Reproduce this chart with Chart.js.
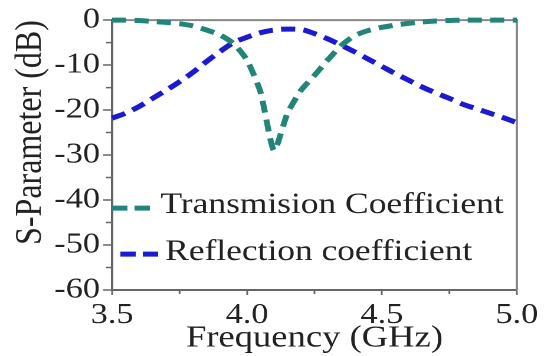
<!DOCTYPE html>
<html>
<head>
<meta charset="utf-8">
<script src="https://cdn.jsdelivr.net/npm/chart.js@4"></script>
<style>
    html, body { margin: 0; padding: 0; background: #fff; overflow: hidden; }
    /* the source figure is stretched sideways, so the canvas is too */
    #wrap { width: 470px; height: 356px; transform: scaleX(1.18); transform-origin: 0 0; }
</style>
</head>
<body>
<div id="wrap"><canvas id="chart" width="470" height="356"></canvas></div>
<script>
const freq = [
    3.50, 3.55, 3.60, 3.65, 3.70, 3.75, 3.80, 3.85, 3.90, 3.95, 4.00,
    4.05, 4.10, 4.15, 4.20, 4.25, 4.30, 4.35, 4.40, 4.45, 4.50,
    4.55, 4.60, 4.65, 4.70, 4.75, 4.80, 4.85, 4.90, 4.95, 5.00,
];
const transmission = [
    0, 0, -0.1, -0.3, -0.5, -0.8, -1.3, -2.2, -3.3, -5.2, -8.9,
    -16, -29, -20.7, -15.6, -12.3, -8.8, -5.6, -3.4, -2.3, -1.6,
    -1.1, -0.7, -0.4, -0.2, -0.1, 0, 0, 0, 0, 0,
];
const reflection = [
    -21.8, -20.7, -19.2, -17.4, -15.6, -13.7, -11.6, -9.2, -7.0, -5.0, -3.8,
    -2.8, -2.2, -2.0, -2.1, -3.0, -4.2, -5.6, -7.1, -8.7, -10.3,
    -11.9, -13.4, -14.9, -16.2, -17.4, -18.7, -19.7, -20.7, -21.7, -22.8,
];
const seriesLabels = ['Transmision Coefficient', 'Reflection coefficient'];
const xTicks = [3.5, 4.0, 4.5, 5.0];
const xMinor = [3.75, 4.25, 4.75];
const yTicks = [0, -10, -20, -30, -40, -50, -60];
const yMinor = [-5, -15, -25, -35, -45, -55];

const colors = { teal: '#22857a', blue: '#1a1ad2', axis: '#666', frame: '#888', text: '#222' };
const serif = "'Liberation Serif', 'Times New Roman', serif";

const toPoints = values => freq.map((f, i) => ({ x: f, y: values[i] }));

const frame = {
    id: 'frame',
    beforeDatasetsDraw(chart) {
        const { ctx, chartArea: a, scales: { x, y } } = chart;
        ctx.save();
        ctx.strokeStyle = colors.frame;
        ctx.lineWidth = 2;
        ctx.beginPath();
        ctx.moveTo(a.left, a.top);
        ctx.lineTo(a.right, a.top);
        ctx.lineTo(a.right, a.bottom);
        ctx.stroke();

        ctx.strokeStyle = colors.axis;
        ctx.lineWidth = 1.5;
        ctx.beginPath();
        yMinor.forEach(v => {
            const py = y.getPixelForValue(v);
            ctx.moveTo(a.left - 5, py);
            ctx.lineTo(a.left, py);
        });
        xMinor.forEach(v => {
            const px = x.getPixelForValue(v);
            ctx.moveTo(px, a.bottom);
            ctx.lineTo(px, a.bottom + 4);
        });
        ctx.stroke();
        ctx.restore();
    },
    afterDatasetsDraw(chart) {
        const { ctx, chartArea: a } = chart;
        const rows = [
            { x0: 0, x1: 32, line: 188, base: 193, text: 41 },
            { x0: 7, x1: 42, line: 234, base: 240, text: 45 },
        ];
        ctx.save();
        chart.data.datasets.forEach((ds, i) => {
            const r = rows[i];
            ctx.strokeStyle = ds.borderColor;
            ctx.lineWidth = ds.borderWidth;
            ctx.setLineDash([13, 6]);
            ctx.beginPath();
            ctx.moveTo(a.left + r.x0, a.top + r.line);
            ctx.lineTo(a.left + r.x1, a.top + r.line);
            ctx.stroke();
            ctx.setLineDash([]);
            ctx.fillStyle = colors.text;
            ctx.font = `30px ${serif}`;
            ctx.textBaseline = 'alphabetic';
            ctx.fillText(ds.label, a.left + r.text, a.top + r.base);
        });
        ctx.restore();
    },
};

new Chart(document.getElementById('chart'), {
    type: 'line',
    data: {
        datasets: [{
            label: seriesLabels[0],
            data: toPoints(transmission),
            borderColor: colors.teal,
            borderWidth: 5,
            borderDash: [12, 7],
            pointRadius: 0,
            tension: 0.2,
            clip: 6,
        }, {
            label: seriesLabels[1],
            data: toPoints(reflection),
            borderColor: colors.blue,
            borderWidth: 5,
            borderDash: [12, 7],
            pointRadius: 0,
            cubicInterpolationMode: 'monotone',
            clip: 6,
        }],
    },
    options: {
        responsive: false,
        animation: false,
        devicePixelRatio: 2,
        layout: { padding: { top: 20, right: 32, left: 0, bottom: 0 } },
        plugins: { legend: { display: false }, tooltip: { enabled: false } },
        scales: {
            x: {
                type: 'linear',
                min: 3.5,
                max: 5.0,
                afterBuildTicks: scale => { scale.ticks = xTicks.map(value => ({ value })); },
                afterFit: scale => { scale.height = 66; },
                border: { color: colors.axis, width: 2 },
                grid: { drawOnChartArea: false, color: colors.axis, tickLength: 5, tickWidth: 1.5 },
                ticks: {
                    color: colors.text,
                    padding: 6,
                    maxRotation: 0,
                    font: { family: serif, size: 29, lineHeight: 1 },
                    callback: v => v.toFixed(1),
                },
                title: {
                    display: true,
                    text: 'Frequency (GHz)',
                    color: colors.text,
                    font: { family: serif, size: 31, lineHeight: 1 },
                    padding: { top: 0, bottom: 2 },
                },
            },
            y: {
                min: -60,
                max: 0,
                afterBuildTicks: scale => { scale.ticks = yTicks.map(value => ({ value })); },
                afterFit: scale => { scale.width = 95; },
                border: { color: colors.axis, width: 2 },
                grid: { drawOnChartArea: false, color: colors.axis, tickLength: 7.6, tickWidth: 1.5 },
                ticks: {
                    color: colors.text,
                    padding: 2.7,
                    font: { family: serif, size: 29 },
                },
                title: {
                    display: true,
                    text: 'S-Parameter (dB)',
                    align: 'end',
                    color: colors.text,
                    font: { family: serif, size: 32, lineHeight: 1 },
                    padding: { top: 10, bottom: 0 },
                },
            },
        },
    },
    plugins: [frame],
});
</script>
</body>
</html>
